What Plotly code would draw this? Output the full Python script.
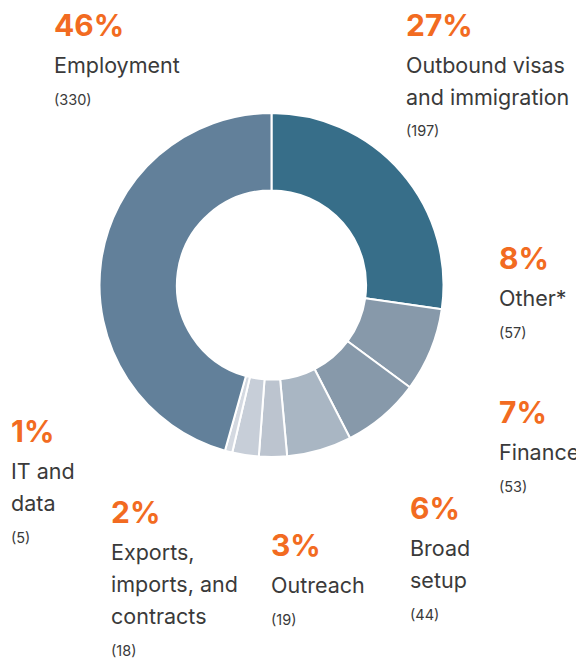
import plotly.graph_objects as go

categories = ["Outbound visas and immigration", "Other*", "Finance", "Broad setup",
              "Outreach", "Exports, imports, and contracts", "IT and data", "Employment"]
label_lines = [["Outbound visas", "and immigration"], ["Other*"], ["Finance"], ["Broad", "setup"],
               ["Outreach"], ["Exports,", "imports, and", "contracts"], ["IT and", "data"], ["Employment"]]
counts = [197, 57, 53, 44, 19, 18, 5, 330]
colors = ["#376e89", "#8799aa", "#8799aa", "#a9b6c3", "#bcc4cf", "#c7ced8", "#d4d9e1", "#62809a"]

OFF = 8  # page body margin
W, H = 584 - OFF, 661 - OFF
total = sum(counts)
pcts = [round(c / total * 100) for c in counts]

# label anchor (left x px, percent y-center px) in page coordinates
label_pos = [(407, 25), (500, 258), (500, 412), (411, 508), (272, 545), (112, 512), (12, 431), (55, 25)]

def px(x, y):
    return (x - OFF) / W, 1 - (y - OFF) / H

x0d, y1d = px(99.5, 113)
x1d, y0d = px(443.5, 457)

fig = go.Figure(go.Pie(
    labels=categories, values=counts, sort=False, direction="clockwise", rotation=0,
    hole=0.55, marker=dict(colors=colors, line=dict(color="white", width=2)),
    textinfo="none", hoverinfo="label+value+percent",
    domain=dict(x=[x0d, x1d], y=[y0d, y1d]),
))

FONT = "Inter"
ann = []
for (x0, y0), lines, c, p in zip(label_pos, label_lines, counts, pcts):
    xx, yy = px(x0, y0)
    ann.append(dict(x=xx, y=yy, text=f"<b>{p}%</b>", font=dict(family=FONT, size=30, color="#f26b21")))
    y = y0 + 40
    for ln in lines:
        xx, yy = px(x0, y)
        ann.append(dict(x=xx, y=yy, text=ln, font=dict(family=FONT, size=21.5, color="#3a3a3a")))
        y += 32
    xx, yy = px(x0, y + 2)
    ann.append(dict(x=xx, y=yy, text=f"({c})", font=dict(family=FONT, size=14.5, color="#3a3a3a")))

for a in ann:
    a.update(xref="paper", yref="paper", xanchor="left", yanchor="middle", showarrow=False,
             xshift=-3)

fig.update_layout(
    width=W, height=H, margin=dict(l=0, r=0, t=0, b=0),
    paper_bgcolor="white", plot_bgcolor="white", showlegend=False,
    annotations=ann,
)
fig.write_html("out.html")
